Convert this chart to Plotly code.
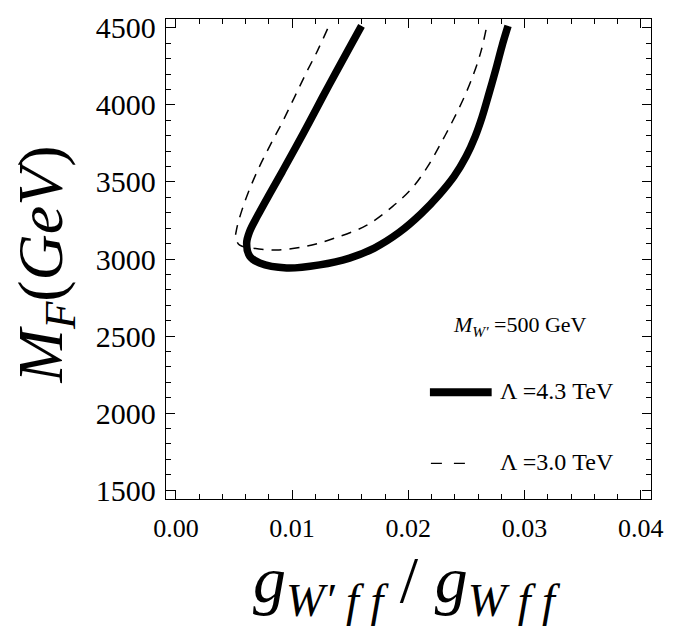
import plotly.graph_objects as go

# Λ = 4.3 TeV contour (thick)
x_43 = [0.01597, 0.01494, 0.01382, 0.01262, 0.01150, 0.01030, 0.00918, 0.00807,
        0.00704, 0.00635, 0.00609, 0.00635, 0.00721, 0.00953, 0.01236, 0.01494,
        0.01708, 0.01923, 0.02112, 0.02266, 0.02395, 0.02498, 0.02575, 0.02635,
        0.02695, 0.02755, 0.02807, 0.02858]
y_43 = [4513, 4372, 4218, 4051, 3891, 3724, 3571, 3423,
        3282, 3179, 3103, 3019, 2974, 2942, 2962, 3006,
        3071, 3173, 3295, 3417, 3538, 3667, 3795, 3923,
        4077, 4237, 4385, 4513]

# Λ = 3.0 TeV contour (dashed)
x_30 = [0.01305, 0.01219, 0.01124, 0.01021, 0.00918, 0.00815, 0.00721, 0.00635,
        0.00567, 0.00524, 0.00515, 0.00549, 0.00661, 0.00867, 0.01124, 0.01365,
        0.01639, 0.01863, 0.02026, 0.02163, 0.02275, 0.02378, 0.02481, 0.02567,
        0.02627, 0.02670]
y_30 = [4494, 4353, 4212, 4051, 3891, 3744, 3603, 3455,
        3314, 3199, 3135, 3090, 3071, 3058, 3083, 3135,
        3218, 3340, 3455, 3596, 3744, 3891, 4051, 4212,
        4353, 4494]

x_ticks = [0.00, 0.01, 0.02, 0.03, 0.04]
x_labels = ["0.00", "0.01", "0.02", "0.03", "0.04"]
y_ticks = [1500, 2000, 2500, 3000, 3500, 4000, 4500]
y_labels = ["1500", "2000", "2500", "3000", "3500", "4000", "4500"]

serif = "Liberation Serif, Times New Roman, Times, DejaVu Serif, serif"

fig = go.Figure()
fig.add_trace(go.Scatter(x=x_30, y=y_30, mode="lines", line_shape="spline",
                         line=dict(color="black", width=1.5, dash="10px,8px"),
                         showlegend=False))
fig.add_trace(go.Scatter(x=x_43, y=y_43, mode="lines", line_shape="spline",
                         line=dict(color="black", width=7.5),
                         showlegend=False))

xaxis = dict(range=[-0.00085, 0.04088], tickmode="array", tickvals=x_ticks,
             ticktext=x_labels,
             ticks="inside", ticklen=9, tickwidth=1, tickcolor="black",
             showline=True, linecolor="black", linewidth=1.3, mirror="ticks",
             showgrid=False, zeroline=False,
             tickfont=dict(family=serif, size=26, color="black"),
             ticklabelstandoff=6,
             minor=dict(dtick=0.002, tick0=0, ticks="inside", ticklen=5,
                        tickwidth=1, tickcolor="black", showgrid=False))
yaxis = dict(range=[1442, 4558], tickmode="array", tickvals=y_ticks,
             ticktext=y_labels,
             ticks="inside", ticklen=9, tickwidth=1, tickcolor="black",
             showline=True, linecolor="black", linewidth=1.3, mirror="ticks",
             showgrid=False, zeroline=False,
             tickfont=dict(family=serif, size=30, color="black"),
             ticklabelstandoff=3,
             minor=dict(dtick=100, tick0=1500, ticks="inside", ticklen=5,
                        tickwidth=1, tickcolor="black", showgrid=False))

L, R, T, B = 166, 22, 13, 130
W, H = 675, 629
pw, ph = W - L - R, H - T - B

def px(xp):
    return (xp - L) / pw

def py(yp):
    return (H - B - yp) / ph

annotations = [
    dict(x=px(44), y=py(262), xref="paper", yref="paper", textangle=-90,
         text="<i>M</i><sub><i>F</i></sub>(<i>GeV</i>)", showarrow=False,
         font=dict(family=serif, size=64, color="black"),
         xanchor="center", yanchor="middle"),
    dict(x=px(408), y=py(586), xref="paper", yref="paper",
         text="<i>g</i><sub><i>W′ f f</i></sub> / <i>g</i><sub><i>W f f</i></sub>",
         showarrow=False, font=dict(family=serif, size=66, color="black"),
         xanchor="center", yanchor="middle"),
    dict(x=px(521), y=py(324), xref="paper", yref="paper",
         text="<i>M</i><sub><i>W′</i></sub> =500 GeV", showarrow=False,
         font=dict(family=serif, size=22, color="black"),
         xanchor="center", yanchor="middle"),
    dict(x=px(499), y=py(390), xref="paper", yref="paper",
         text="Λ =4.3 TeV", showarrow=False,
         font=dict(family=serif, size=24, color="black"),
         xanchor="left", yanchor="middle"),
    dict(x=px(499), y=py(462), xref="paper", yref="paper",
         text="Λ =3.0 TeV", showarrow=False,
         font=dict(family=serif, size=24, color="black"),
         xanchor="left", yanchor="middle"),
]

shapes = [
    dict(type="line", xref="paper", yref="paper", x0=px(431), x1=px(493),
         y0=py(391), y1=py(391), line=dict(color="black", width=8)),
    dict(type="line", xref="paper", yref="paper", x0=px(432), x1=px(467),
         y0=py(463), y1=py(463), line=dict(color="black", width=1.3, dash="11px,12px")),
]

fig.update_layout(width=W, height=H, margin=dict(l=L, r=R, t=T, b=B),
                  font=dict(family=serif, size=25, color="black"),
                  xaxis=xaxis, yaxis=yaxis,
                  plot_bgcolor="white", paper_bgcolor="white",
                  annotations=annotations, shapes=shapes, showlegend=False)

fig.write_html("out.html")
